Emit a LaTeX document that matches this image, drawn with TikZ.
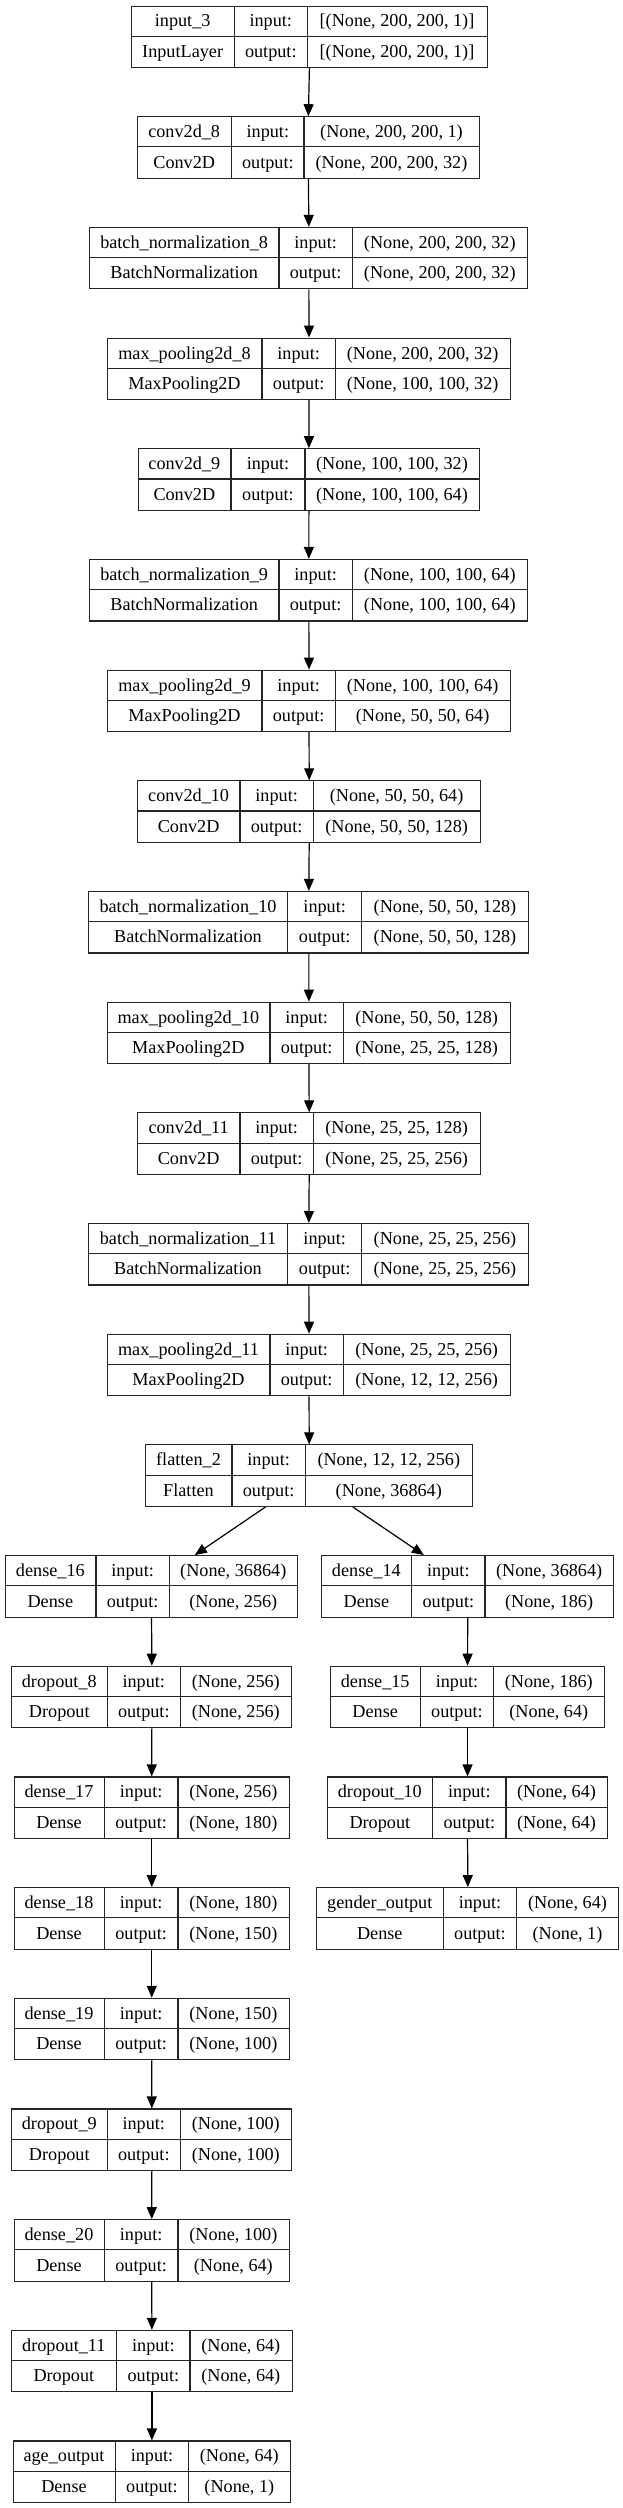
\documentclass[tikz,border=0pt]{standalone}
\usepackage{fontspec}
\setmainfont{Liberation Serif}
\usetikzlibrary{arrows.meta,calc}
\def\parsecols#1,#2,#3,#4\relax{\def\ca{#1}\def\cb{#2}\def\cc{#3}\def\cd{#4}}
\tikzset{
  box/.style={draw=black!85, line width=1.1pt, minimum height=61.5pt, inner sep=0pt, anchor=north west},
  sep/.style={draw=black!85, line width=1.1pt},
  txt/.style={anchor=base, inner sep=0pt, font=\fontsize{18.2}{22}\selectfont},
  arr/.style={line width=1.2pt, -{Triangle[length=12pt,width=10pt]}}
}
\newcommand\layer[7]{%
  \parsecols#3\relax
  \pgfmathsetmacro\ty{5.5+110.68*#2}%
  \pgfmathsetmacro\tw{\cd-\ca}%
  \node[box, minimum width=\tw pt] (#1) at (\ca,\ty) {};
  \draw[sep] (\ca,\ty+30.75) -- (\cd,\ty+30.75);
  \draw[sep] (\cb,\ty) -- (\cb,\ty+61.5);
  \draw[sep] (\cc,\ty) -- (\cc,\ty+61.5);
  \node[txt] at ({(\ca+\cb)/2},\ty+21.5) {#4};
  \node[txt] at ({(\ca+\cb)/2},\ty+52) {#5};
  \node[txt] at ({(\cb+\cc)/2},\ty+21.5) {input:};
  \node[txt] at ({(\cb+\cc)/2},\ty+52) {output:};
  \node[txt] at ({(\cc+\cd)/2},\ty+21.5) {#6};
  \node[txt] at ({(\cc+\cd)/2},\ty+52) {#7};
}
\begin{document}
\begin{tikzpicture}[x=1pt,y=-1pt]
\fill[white] (0,0) rectangle (623,2508);
\useasboundingbox (0,0) rectangle (623,2508);
\layer{L0}{0}{131,234.3,307.3,486.7}{input\_3}{InputLayer}{[(None, 200, 200, 1)]}{[(None, 200, 200, 1)]}
\layer{L1}{1}{136.7,231.7,304,479}{conv2d\_8}{Conv2D}{(None, 200, 200, 1)}{(None, 200, 200, 32)}
\layer{L2}{2}{89.3,279,352.3,527.3}{batch\_normalization\_8}{BatchNormalization}{(None, 200, 200, 32)}{(None, 200, 200, 32)}
\layer{L3}{3}{107,262,335.3,510}{max\_pooling2d\_8}{MaxPooling2D}{(None, 200, 200, 32)}{(None, 100, 100, 32)}
\layer{L4}{4}{137.7,231,305,479}{conv2d\_9}{Conv2D}{(None, 100, 100, 32)}{(None, 100, 100, 64)}
\layer{L5}{5}{89.3,279,352.3,527.3}{batch\_normalization\_9}{BatchNormalization}{(None, 100, 100, 64)}{(None, 100, 100, 64)}
\layer{L6}{6}{107,262,335.3,510}{max\_pooling2d\_9}{MaxPooling2D}{(None, 100, 100, 64)}{(None, 50, 50, 64)}
\layer{L7}{7}{137.3,240,313.3,480}{conv2d\_10}{Conv2D}{(None, 50, 50, 64)}{(None, 50, 50, 128)}
\layer{L8}{8}{88.3,287.7,361.7,528.3}{batch\_normalization\_10}{BatchNormalization}{(None, 50, 50, 128)}{(None, 50, 50, 128)}
\layer{L9}{9}{106.7,270,343.3,510}{max\_pooling2d\_10}{MaxPooling2D}{(None, 50, 50, 128)}{(None, 25, 25, 128)}
\layer{L10}{10}{137.3,240,313.3,480}{conv2d\_11}{Conv2D}{(None, 25, 25, 128)}{(None, 25, 25, 256)}
\layer{L11}{11}{88.3,287.7,361.7,528.3}{batch\_normalization\_11}{BatchNormalization}{(None, 25, 25, 256)}{(None, 25, 25, 256)}
\layer{L12}{12}{107,270,343.3,510}{max\_pooling2d\_11}{MaxPooling2D}{(None, 25, 25, 256)}{(None, 12, 12, 256)}
\layer{L13}{13}{145,232,305.3,472.3}{flatten\_2}{Flatten}{(None, 12, 12, 256)}{(None, 36864)}
\layer{L14}{14}{4.7,96,169.3,297.3}{dense\_16}{Dense}{(None, 36864)}{(None, 256)}
\layer{L15}{15}{11.3,107.3,180.3,291.3}{dropout\_8}{Dropout}{(None, 256)}{(None, 256)}
\layer{L16}{16}{13.7,104.3,178,288.7}{dense\_17}{Dense}{(None, 256)}{(None, 180)}
\layer{L17}{17}{13.7,104.3,178,288.7}{dense\_18}{Dense}{(None, 180)}{(None, 150)}
\layer{L18}{18}{13.7,104.3,178,288.7}{dense\_19}{Dense}{(None, 150)}{(None, 100)}
\layer{L19}{19}{11.3,107.3,180.3,291.3}{dropout\_9}{Dropout}{(None, 100)}{(None, 100)}
\layer{L20}{20}{13.7,104.3,178,288.7}{dense\_20}{Dense}{(None, 100)}{(None, 64)}
\layer{L21}{21}{11,116.7,190,291.7}{dropout\_11}{Dropout}{(None, 64)}{(None, 64)}
\layer{L22}{22}{12.7,115.3,188.7,290}{age\_output}{Dense}{(None, 64)}{(None, 1)}
\layer{R14}{14}{321,411.7,485,613.3}{dense\_14}{Dense}{(None, 36864)}{(None, 186)}
\layer{R15}{15}{329.7,420.7,493.3,604.3}{dense\_15}{Dense}{(None, 186)}{(None, 64)}
\layer{R16}{16}{327,432.7,506,607}{dropout\_10}{Dropout}{(None, 64)}{(None, 64)}
\layer{R17}{17}{316.3,443.3,516.7,618.3}{gender\_output}{Dense}{(None, 64)}{(None, 1)}
\foreach \a/\b in {L0/L1,L1/L2,L2/L3,L3/L4,L4/L5,L5/L6,L6/L7,L7/L8,L8/L9,L9/L10,L10/L11,L11/L12,L12/L13,L14/L15,L15/L16,L16/L17,L17/L18,L18/L19,L19/L20,L20/L21,L21/L22,R14/R15,R15/R16,R16/R17}
  \draw[arr] (\a.south) -- (\b.north);
\draw[arr] ($(L13.south)+(-43.7,0)$) -- ($(L14.north)+(43.3,0)$);
\draw[arr] ($(L13.south)+(43.6,0)$) -- ($(R14.north)+(-43.9,0)$);
\end{tikzpicture}
\end{document}
